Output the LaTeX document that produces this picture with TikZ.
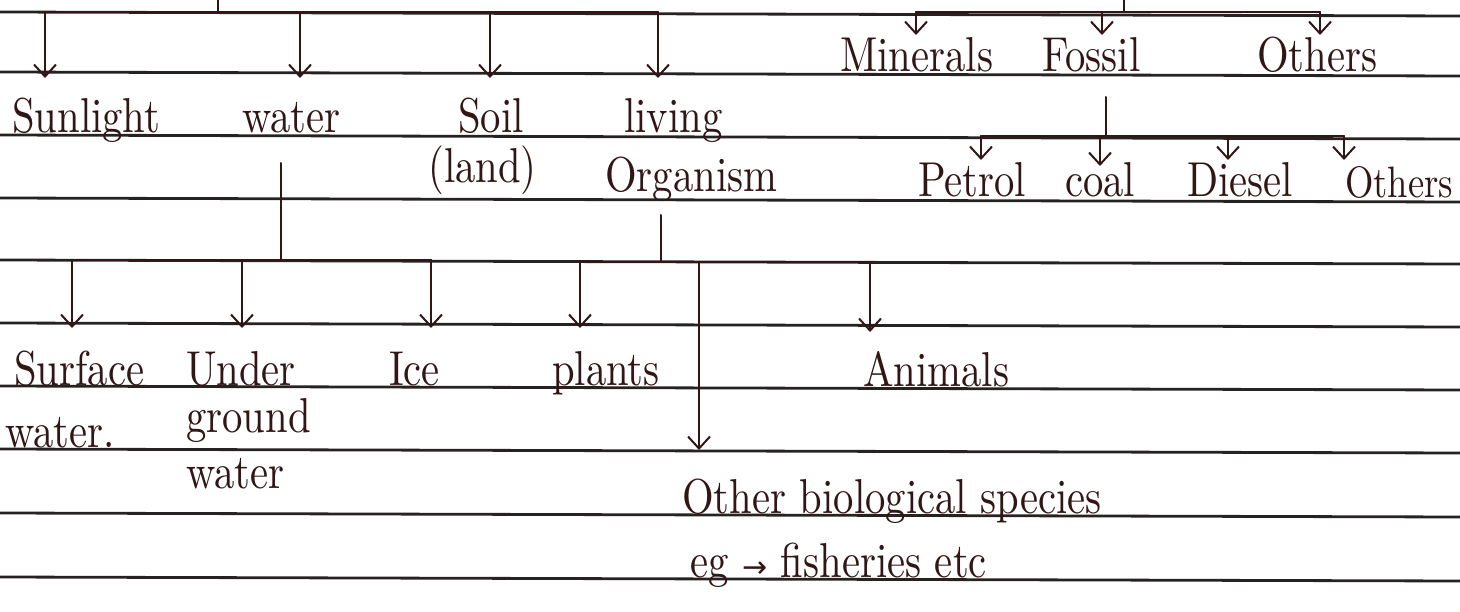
\documentclass[tikz,border=0pt]{standalone}
\usepackage{fontspec}
\newfontfamily\hand{lmroman10-regular.otf}[FakeStretch=0.83]
\newfontfamily\symfnt{DejaVu Sans}
\usetikzlibrary{arrows.meta}
\definecolor{ink}{RGB}{50,22,22}
\definecolor{rulecol}{RGB}{38,34,34}
\begin{document}
\begin{tikzpicture}[x=1pt,y=-1pt,
  lbl/.style={anchor=base west, inner sep=0pt, text=ink, font=\hand\fontsize{49}{54}\selectfont},
  wire/.style={draw=ink, line width=2pt, line cap=round},
  arr/.style={wire, -{Straight Barb[length=12pt,width=22pt,line width=2pt]}},
  ruled/.style={draw=rulecol, line width=2.8pt}]
\useasboundingbox (0,0) rectangle (1460,612);
\fill[white] (0,0) rectangle (1460,612);
% notebook ruling
\foreach \yy in {12,72,135,198,260,323,386,449,513,577}
  \draw[ruled] (0,\yy) -- (1460,\yy+4);

% ---------- labels ----------
\node[lbl] (sun)  at (12,133)  {Sunlight};
\node[lbl] (wat)  at (242,133) {water};
\node[lbl] (soil) at (458,133) {Soil};
\node[lbl] (land) at (428,183) {(land)};
\node[lbl] (liv)  at (624,133) {living};
\node[lbl] (org)  at (605,192) {Organism};

\node[lbl] (min)  at (840,72)  {Minerals};
\node[lbl] (fos)  at (1042,72) {Fossil};
\node[lbl] (oth)  at (1257,72) {Others};

\node[lbl] (pet)  at (918,197)  {Petrol};
\node[lbl] (coal) at (1065,197) {coal};
\node[lbl] (dies) at (1187,197) {Diesel};
\node[lbl, font=\hand\fontsize{44}{50}\selectfont] (oth2) at (1345,198) {Others};

\node[lbl] (surf) at (14,385)  {Surface};
\node[lbl] (surf2) at (5,447)  {water.};
\node[lbl] (und)  at (186,385) {Under};
\node[lbl] (und2) at (186,432) {ground};
\node[lbl] (und3) at (186,488) {water};
\node[lbl] (ice)  at (389,385) {Ice};
\node[lbl] (pla)  at (552,385) {plants};
\node[lbl] (ani)  at (863,387) {Animals};
\node[lbl] (obs)  at (682,513) {Other biological species};
\node[lbl] (eg)   at (690,577) {eg {\symfnt\fontsize{30}{34}\selectfont →} fisheries etc};

% ---------- arrow tips (free ends) ----------
\coordinate (sunT) at (45,78);
\coordinate (watT) at (300,78);
\coordinate (soilT) at (490,78);
\coordinate (livT) at (658,78);

\coordinate (minT) at (916,35);
\coordinate (fosT) at (1102,35);
\coordinate (othT) at (1320,35);

\coordinate (petT) at (981,160);
\coordinate (coalT) at (1100,166);
\coordinate (diesT) at (1228,160);
\coordinate (oth2T) at (1344,160);

\coordinate (surfT) at (72,328);
\coordinate (undT) at (242,328);
\coordinate (iceT) at (431,328);
\coordinate (plaT) at (580,328);
\coordinate (obsT) at (699,450);
\coordinate (aniT) at (870,332);

% ---------- top-left tree ----------
\coordinate (rootL) at (218,0);
\coordinate (jL) at (218,12);
\draw[wire] (rootL) -- (jL);
\draw[wire] (jL -| sunT) -- (jL -| livT);
\foreach \t in {sunT,watT,soilT,livT}
  \draw[arr] (jL -| \t) -- (\t);

% ---------- top-right tree ----------
\coordinate (rootR) at (1124,0);
\coordinate (jR) at (1124,12);
\draw[wire] (rootR) -- (jR);
\draw[wire] (jR -| minT) -- (jR -| othT);
\foreach \t in {minT,fosT,othT}
  \draw[arr] (jR -| \t) -- (\t);

% ---------- fossil subtree ----------
\coordinate (fosS) at (1106,97);
\coordinate (jF) at (1106,136);
\draw[wire] (fosS) -- (jF);
\draw[wire] (jF -| petT) -- (jF -| oth2T);
\foreach \t in {petT,coalT,diesT,oth2T}
  \draw[arr] (jF -| \t) -- (\t);

% ---------- water subtree ----------
\coordinate (watS) at (281,163);
\coordinate (jW) at (281,260);
\draw[wire] (watS) -- (jW);
\draw[wire] (jW -| surfT) -- (jW -| iceT);
\foreach \t in {surfT,undT,iceT}
  \draw[arr] (jW -| \t) -- (\t);

% ---------- living organism subtree ----------
\coordinate (livS) at (661,215);
\coordinate (jO) at (661,262);
\draw[wire] (livS) -- (jO);
\draw[wire] (jO -| plaT) -- (jO -| aniT);
\foreach \t in {plaT,obsT,aniT}
  \draw[arr] (jO -| \t) -- (\t);
\end{tikzpicture}
\end{document}
